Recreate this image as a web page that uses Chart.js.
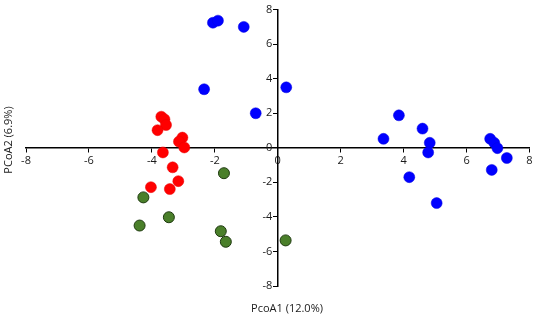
<!DOCTYPE html>
<html>
<head>
<meta charset="utf-8">
<script src="https://cdn.jsdelivr.net/npm/chart.js@4"></script>
<style>
  html, body { margin: 0; padding: 0; background: #fff; }
  #wrap { width: 536px; height: 318px; position: relative; }
</style>
</head>
<body>
<div id="wrap"><canvas id="chart1"></canvas></div>
<script>
const tickValues = [-8, -6, -4, -2, 0, 2, 4, 6, 8];
const xTitle = "PcoA1 (12.0%)";
const yTitle = "PCoA2 (6.9%)";

// group 1 (blue)
const blueX = [-2.06, -1.90, -1.08, -2.34, -0.70, 0.27, 3.36, 3.85, 4.60, 4.83, 4.78, 6.75, 6.88, 6.98, 7.28, 4.18, 5.05, 6.80];
const blueY = [7.24, 7.36, 7.00, 3.39, 2.00, 3.50, 0.52, 1.88, 1.11, 0.29, -0.27, 0.52, 0.29, -0.02, -0.59, -1.70, -3.20, -1.28];

// group 2 (red)
const redX = [-3.70, -3.60, -3.55, -3.82, -3.03, -3.14, -2.97, -3.65, -3.34, -3.16, -4.03, -3.43];
const redY = [1.80, 1.65, 1.32, 1.02, 0.59, 0.36, 0.02, -0.27, -1.13, -1.93, -2.28, -2.39];

// group 3 (green)
const greenX = [-1.71, -4.27, -3.46, -4.39, -1.81, -1.65, 0.25];
const greenY = [-1.47, -2.87, -4.02, -4.50, -4.83, -5.44, -5.36];

function pts(xs, ys) {
  return xs.map((x, i) => ({ x: x, y: ys[i] }));
}

const axisTitles = {
  id: "axisTitles",
  afterDraw(chart) {
    const ctx = chart.ctx;
    ctx.save();
    ctx.fillStyle = "#1a1a1a";
    ctx.font = "11px 'Open Sans'";
    ctx.textAlign = "center";
    ctx.textBaseline = "middle";
    ctx.fillText(xTitle, 287, 309);
    ctx.translate(9, 140);
    ctx.rotate(-Math.PI / 2);
    ctx.fillText(yTitle, 0, 0);
    ctx.restore();
  }
};

const tickOpts = {
  color: "#1a1a1a",
  font: { family: "Open Sans", size: 11 },
  autoSkip: false,
  maxRotation: 0
};

const ctx = document.getElementById("chart1").getContext("2d");
const myChart = new Chart(ctx, {
  type: "scatter",
  data: {
    datasets: [
      {
        data: pts(blueX, blueY),
        backgroundColor: "#0000ff",
        borderColor: "#0000e0",
        borderWidth: 0.5,
        pointRadius: 5.5
      },
      {
        data: pts(redX, redY),
        backgroundColor: "#ff0000",
        borderColor: "#e80000",
        borderWidth: 0.5,
        pointRadius: 5.5
      },
      {
        data: pts(greenX, greenY),
        backgroundColor: "#4a7f2a",
        borderColor: "#1f3a10",
        borderWidth: 1,
        pointRadius: 5.5
      }
    ]
  },
  options: {
    responsive: true,
    maintainAspectRatio: false,
    animation: false,
    layout: { padding: { left: 26, right: 5, top: 8, bottom: 32 } },
    plugins: {
      legend: { display: false },
      tooltip: { enabled: false }
    },
    scales: {
      x: {
        type: "linear",
        position: { y: 0 },
        min: -8,
        max: 8,
        afterBuildTicks: (axis) => { axis.ticks = tickValues.map(v => ({ value: v })); },
        ticks: Object.assign({ padding: 2 }, tickOpts),
        grid: { drawOnChartArea: false, drawTicks: true, tickLength: 4, color: "#000", lineWidth: 1 },
        border: { display: true, color: "#000", width: 1.5 }
      },
      y: {
        type: "linear",
        position: { x: 0 },
        min: -8,
        max: 8,
        afterBuildTicks: (axis) => { axis.ticks = tickValues.map(v => ({ value: v })); },
        ticks: Object.assign({ padding: 3, callback: (v) => v + "\u2002" }, tickOpts),
        grid: { drawOnChartArea: false, drawTicks: true, tickLength: 4, color: "#000", lineWidth: 1 },
        border: { display: true, color: "#000", width: 1.5 }
      }
    }
  },
  plugins: [axisTitles]
});
</script>
</body>
</html>
